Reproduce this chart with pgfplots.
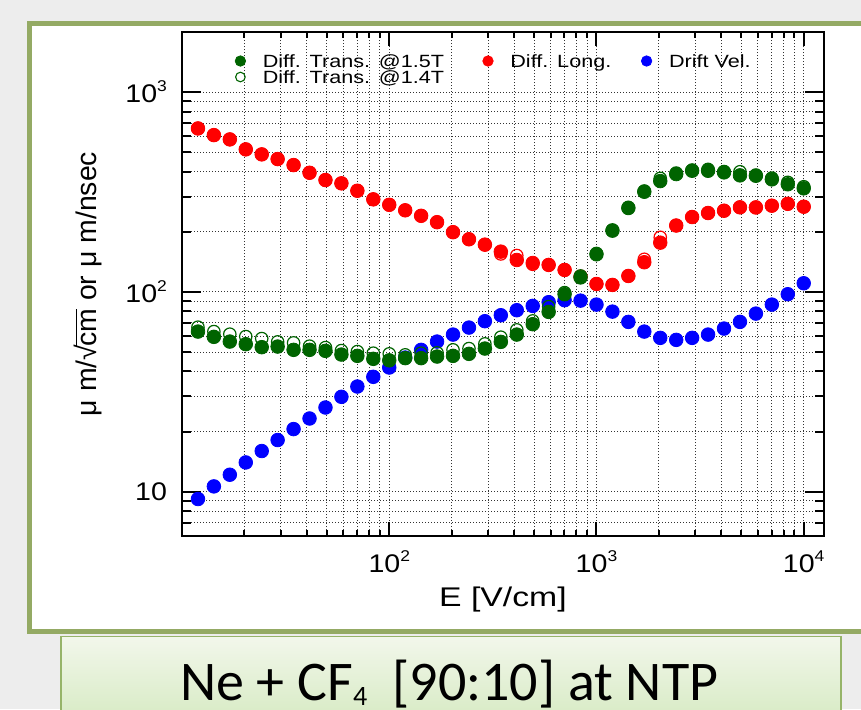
\documentclass[border=0pt]{standalone}
\usepackage{fontspec}
\usepackage{pgfplots}
\usepackage{pgfplotstable}
\pgfplotsset{compat=1.18}
\setmainfont{Liberation Sans}
\newfontfamily\tickfont[FakeStretch=1.12]{Liberation Sans}
\newfontfamily\legfont[FakeStretch=1.22]{Liberation Sans}
\newfontfamily\xlabfont[FakeStretch=1.25]{Liberation Sans}
\newfontfamily\capfont{Carlito}
\definecolor{dgreen}{RGB}{0,100,0}
\definecolor{panelgreen}{RGB}{148,170,100}
\definecolor{boxgreen}{RGB}{150,180,105}
\definecolor{boxtop}{RGB}{242,247,235}
\definecolor{boxbot}{RGB}{214,234,194}
\newcommand\tp[1]{\raisebox{5.5pt}{\fontsize{7.8pt}{8pt}\selectfont #1}}
\newcommand\sqrtcm{\mbox{√\kern-0.06em\setbox0\hbox{cm}\rlap{\rule[0.70em]{\wd0}{0.055em}}\box0}}

\pgfplotstableread{
E drift long longo tra trb
11.94 9.19 658.2 658.2 63.32 66.61
14.25 10.63 609.5 609.5 59.57 63.32
17.01 12.16 580.0 580.0 56.43 61.45
20.31 14.01 517.0 517.0 54.76 59.78
24.25 15.98 488.1 488.1 52.90 58.42
28.94 18.14 462.4 462.4 53.27 56.23
34.55 20.58 431.5 431.5 51.29 55.59
41.25 23.25 394.9 394.9 51.29 53.52
49.24 26.39 363.1 363.1 50.70 52.66
58.78 29.85 349.6 349.6 48.59 50.87
70.17 33.61 321.0 321.0 47.86 50.29
83.77 37.58 290.7 290.7 46.24 49.37
100 41.83 272.9 272.9 45.45 48.98
119.4 46.94 256.2 256.2 46.62 48.42
142.5 51.29 240.4 240.4 46.62 49.37
170.1 56.43 223.4 223.4 47.48 49.55
203.1 61.16 199.1 199.1 47.86 51.29
242.5 66.30 183.5 183.5 48.98 52.06
289.4 71.37 172.4 172.4 52.06 54.95
345.5 76.44 159.1 154.9 56.23 59.36
412.5 81.00 144.5 152.2 61.16 64.57
492.4 85.11 139.6 137.5 68.94 71.61
587.8 88.81 136.5 136.5 79.43 84.43
701.7 90.88 128.8 128.8 97.39 99.20
837.7 90.46 119.3 119.3 118.2 120.2
1000 86.41 109.6 109.6 154.3 155.8
1194 79.71 108.4 108.4 202.6 204.2
1425 70.79 120.2 120.2 263.0 265.0
1701 63.32 140.8 145.7 317.3 319.9
2031 58.88 176.4 187.7 358.9 370.3
2425 57.54 215.0 215.0 389.0 393.6
2894 58.88 237.1 237.1 404.1 407.4
3455 61.16 248.3 248.3 404.1 410.7
4125 65.54 255.0 255.0 396.7 400.5
4924 70.79 265.2 265.2 383.3 399.6
5878 77.91 264.6 266.0 381.5 384.6
7017 86.41 270.2 270.2 366.0 371.5
8377 97.39 276.1 276.1 345.9 353.7
10000 110.5 267.0 267.0 330.0 336.1
}\data

\begin{document}
\begin{tikzpicture}
\useasboundingbox (0pt,0pt) rectangle (430.5pt,-354.5pt);
\clip (0pt,0pt) rectangle (430.5pt,-354.5pt);
\fill[black!7] (0pt,0pt) rectangle (430.5pt,-354.5pt);
% panel
\draw[panelgreen, line width=2.5pt, fill=white] (14.6pt,-11.6pt) rectangle (445pt,-315.5pt);
% caption box
\shade[top color=boxtop, bottom color=boxbot, draw=boxgreen, line width=0.8pt]
  (30.4pt,-318.2pt) rectangle (420.35pt,-362pt);
\node[anchor=base, font=\capfont\fontsize{28pt}{30pt}\selectfont, inner sep=0pt] at (224.6pt,-350pt)
  {Ne + CF\raisebox{-2.6pt}{\fontsize{14pt}{14pt}\selectfont 4}\ \ [90:10] at NTP};
\begin{axis}[
  at={(91pt,-268pt)}, anchor=south west,
  scale only axis, width=320.9pt, height=252pt,
  xmode=log, ymode=log,
  xmin=10, xmax=12500, ymin=6, ymax=2000,
  xtick={100,1000,10000},
  xticklabels={10\tp{2},10\tp{3},10\tp{4}},
  minor xtick={20,30,40,50,60,70,80,90,200,300,400,500,600,700,800,900,2000,3000,4000,5000,6000,7000,8000,9000},
  ytick={10,100,1000},
  yticklabels={10,10\tp{2},10\tp{3}},
  minor ytick={7,8,9,20,30,40,50,60,70,80,90,200,300,400,500,600,700,800,900},
  grid=both,
  major grid style={black!80, line width=0.45pt, dash pattern=on 0.5pt off 1pt},
  minor grid style={black!80, line width=0.45pt, dash pattern=on 0.5pt off 1pt},
  axis line style={black, line width=1pt},
  tick style={black, line width=1pt},
  xtick style={/pgfplots/major tick length=7pt, /pgfplots/minor tick length=3pt},
  ytick style={/pgfplots/major tick length=9.5pt, /pgfplots/minor tick length=4.5pt},
  tick align=inside,
  tick label style={font=\tickfont\fontsize{12.75pt}{14pt}\selectfont},
  xticklabel style={yshift=-4pt},
  yticklabel style={xshift=-4pt},
  xlabel={E [V/cm]},
  x label style={at={(axis description cs:0.5,0)}, anchor=base, yshift=-35pt, inner sep=0pt,
     font=\xlabfont\fontsize{13.5pt}{15pt}\selectfont},
  ylabel={μ m/\sqrtcm{} or μ m/nsec},
  y label style={at={(axis description cs:-0.1457,0.5)}, anchor=center, inner sep=0pt,
     font=\fontsize{14.2pt}{16pt}\selectfont},
  legend columns=3,
  legend cell align=left,
  legend image code/.code={\draw[#1] plot coordinates {(0pt,0pt)}; \path (-2.4pt,0pt) (11pt,0pt);},
  legend style={at={(axis description cs:0,1)}, anchor=north west, xshift=26.6pt, yshift=-10.5pt,
     draw=none, fill=none, inner sep=0pt, outer sep=0pt, column sep=0pt, row sep=0pt,
     font=\legfont\fontsize{8.85pt}{10pt}\selectfont,
     nodes={inner sep=0pt, text height=7.2pt, text depth=0.8pt},
     /tikz/column 2/.style={nodes={text width=110pt}},
     /tikz/column 4/.style={nodes={text width=65.5pt}}},
]
\addlegendimage{mark=*, dgreen, mark size=2.6pt}
\addlegendentry{Diff. Trans. @1.5T}
\addlegendimage{mark=*, red, mark size=2.6pt}
\addlegendentry{Diff. Long.}
\addlegendimage{mark=*, blue, mark size=2.6pt}
\addlegendentry{Drift Vel.}
\addlegendimage{mark=o, dgreen, mark size=2.4pt, mark options={line width=0.55pt}}
\addlegendentry{Diff. Trans. @1.4T}

\addplot[forget plot, only marks, mark=*, blue, mark size=3.4pt] table[x=E, y=drift] {\data};
\addplot[forget plot, only marks, mark=o, red, mark size=3.1pt, mark options={line width=0.6pt}] table[x=E, y=longo] {\data};
\addplot[forget plot, only marks, mark=*, red, mark size=3.4pt] table[x=E, y=long] {\data};
\addplot[forget plot, only marks, mark=o, dgreen, mark size=3.1pt, mark options={line width=0.6pt}] table[x=E, y=trb] {\data};
\addplot[forget plot, only marks, mark=*, dgreen, mark size=3.4pt] table[x=E, y=tra] {\data};
\end{axis}
\end{tikzpicture}
\end{document}
